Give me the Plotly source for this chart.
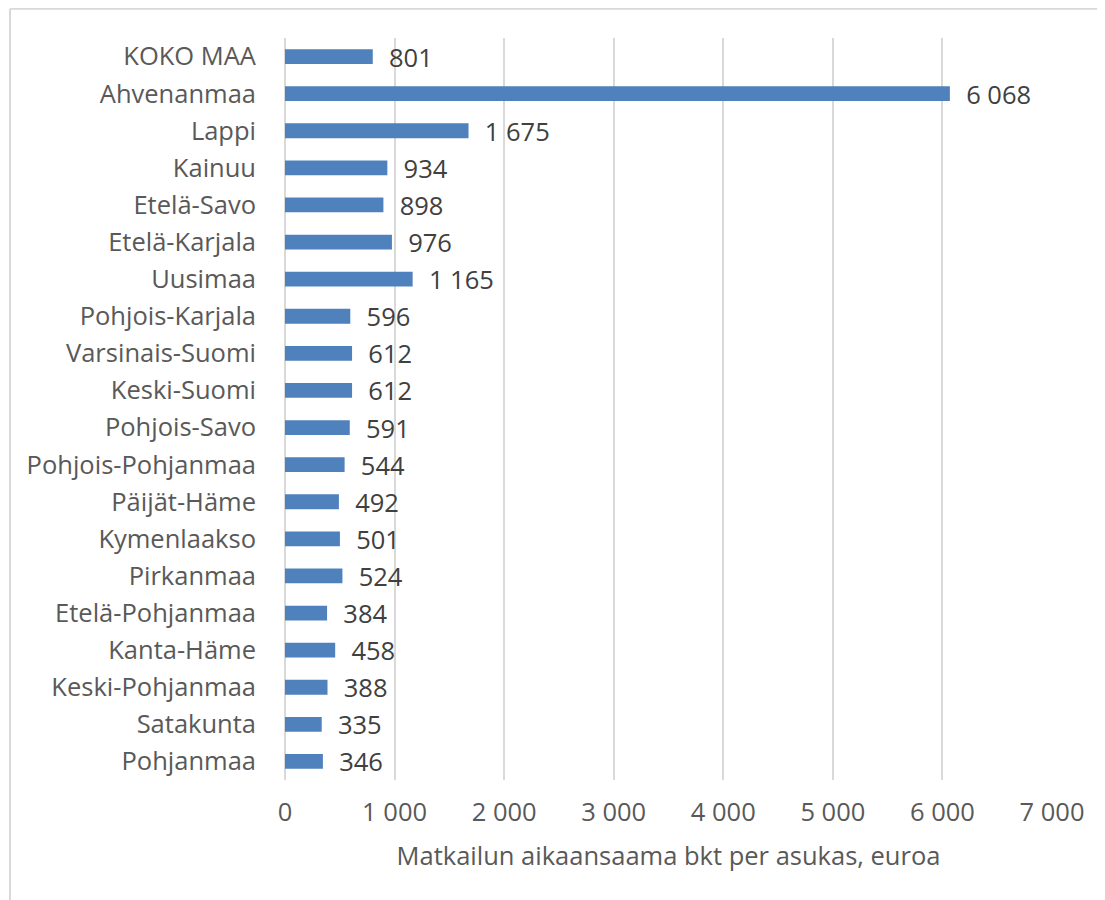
import plotly.graph_objects as go

regions = ['KOKO MAA', 'Ahvenanmaa', 'Lappi', 'Kainuu', 'Etelä-Savo', 'Etelä-Karjala',
           'Uusimaa', 'Pohjois-Karjala', 'Varsinais-Suomi', 'Keski-Suomi', 'Pohjois-Savo',
           'Pohjois-Pohjanmaa', 'Päijät-Häme', 'Kymenlaakso', 'Pirkanmaa', 'Etelä-Pohjanmaa',
           'Kanta-Häme', 'Keski-Pohjanmaa', 'Satakunta', 'Pohjanmaa']
gdp_per_capita = [801, 6068, 1675, 934, 898, 976, 1165, 596, 612, 612, 591,
                  544, 492, 501, 524, 384, 458, 388, 335, 346]
x_ticks = [0, 1000, 2000, 3000, 4000, 5000, 6000, 7000]

font = 'Open Sans, sans-serif'
grey = '#595959'
size = 25.5

# page has an 8px body margin, so the figure is 8px smaller and shifted
fig = go.Figure(go.Bar(
    x=gdp_per_capita,
    y=regions,
    orientation='h',
    marker=dict(color='#4F81BD', line=dict(width=0)),
    width=0.4,
    texttemplate='  %{x:,}',
    textposition='outside',
    constraintext='none',
    textfont=dict(family=font, size=size, color='#404040'),
    cliponaxis=False,
))

fig.update_layout(
    width=1097, height=892,
    paper_bgcolor='white', plot_bgcolor='white',
    margin=dict(l=277, r=53, t=30, b=120, autoexpand=False),
    separators=', ',
    showlegend=False,
    font=dict(family=font, size=size, color=grey),
    xaxis=dict(
        range=[0, 7000], tickvals=x_ticks, tickformat=',',
        showgrid=True, gridcolor='#D9D9D9', gridwidth=1.5,
        zeroline=True, zerolinecolor='#D9D9D9', zerolinewidth=1.5,
        showline=False, ticks='', ticklabelstandoff=14,
        tickfont=dict(size=size, color=grey),
        title=dict(text='Matkailun aikaansaama bkt per asukas, euroa',
                   font=dict(size=size, color=grey), standoff=20),
    ),
    yaxis=dict(
        autorange='reversed', showgrid=False, showline=False, ticks='',
        ticklabelstandoff=28,
        tickfont=dict(size=size, color=grey),
    ),
    shapes=[
        dict(type='line', xref='paper', yref='paper',
             x0=(2 - 277) / 767, x1=1.2, y0=1 + 29 / 734, y1=1 + 29 / 734,
             line=dict(color='#D9D9D9', width=2)),
        dict(type='line', xref='paper', yref='paper',
             x0=(2 - 277) / 767, x1=(2 - 277) / 767, y0=1 + 29 / 734, y1=-0.3,
             line=dict(color='#D9D9D9', width=2)),
    ],
)

fig.write_html('out.html')
